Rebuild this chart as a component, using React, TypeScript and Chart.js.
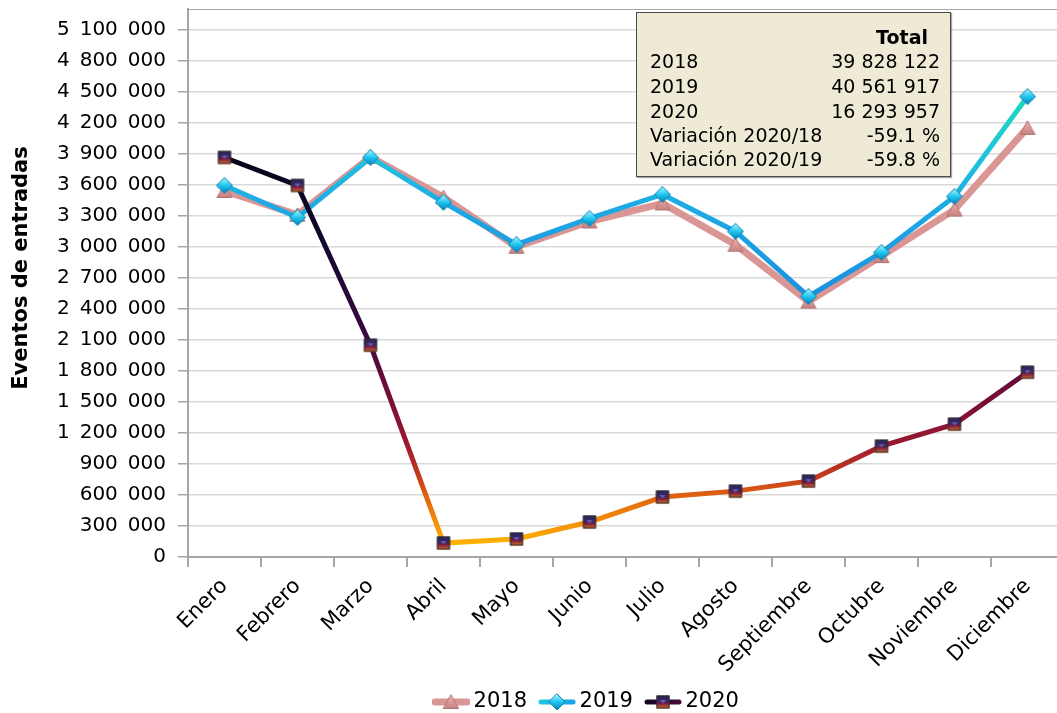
import React, { useEffect, useRef } from 'react';
import { Chart, registerables } from 'chart.js';

Chart.register(...registerables);

// ---------- data ----------
const months = ['Enero', 'Febrero', 'Marzo', 'Abril', 'Mayo', 'Junio', 'Julio', 'Agosto', 'Septiembre', 'Octubre', 'Noviembre', 'Diciembre'];
const seriesLabels = ['2018', '2019', '2020'];
const values2018 = [3540000, 3310000, 3870000, 3480000, 3000000, 3245000, 3420000, 3020000, 2470000, 2910000, 3360000, 4150000];
const values2019 = [3593000, 3284000, 3864000, 3430000, 3023000, 3274000, 3506000, 3149000, 2520000, 2946000, 3487000, 4453000];
const values2020 = [3864000, 3593000, 2048000, 135000, 174000, 338000, 580000, 637000, 734000, 1072000, 1285000, 1787000];
const yTickValues = [0, 300000, 600000, 900000, 1200000, 1500000, 1800000, 2100000, 2400000, 2700000, 3000000, 3300000, 3600000, 3900000, 4200000, 4500000, 4800000, 5100000];
const yMin = 0;
const yMax = 5300000;
const yTitle = 'Eventos de entradas';
const summaryHeader = 'Total';
const summaryLabels = ['2018', '2019', '2020', 'Variación 2020/18', 'Variación 2020/19'];
const summaryValues = ['39 828 122', '40 561 917', '16 293 957', '-59.1 %', '-59.8 %'];

// ---------- styles ----------
const FONT = '"DejaVu Sans", "Liberation Sans", sans-serif';
const grad2020: [number, string][] = [
  [4000000, '#050518'],
  [3000000, '#14082e'],
  [2100000, '#3c0a40'],
  [1800000, '#5e0b3c'],
  [1100000, '#9a1830'],
  [750000, '#c8401c'],
  [600000, '#e06010'],
  [350000, '#f38c06'],
  [130000, '#ffb300'],
];
const grad2019: [number, string][] = [
  [4500000, '#1adcb8'],
  [3900000, '#20c4dc'],
  [3400000, '#1eaae4'],
  [2500000, '#1a8fe0'],
];

function makeCanvas(w: number, h: number) {
  const c = document.createElement('canvas');
  c.width = w;
  c.height = h;
  return c;
}

function drawTriangle(ctx: CanvasRenderingContext2D, cx: number, cy: number) {
  const g = ctx.createLinearGradient(0, cy - 6, 0, cy + 6);
  g.addColorStop(0, '#eab0ae');
  g.addColorStop(1, '#c98482');
  ctx.beginPath();
  ctx.moveTo(cx, cy - 7);
  ctx.lineTo(cx + 7.5, cy + 6.5);
  ctx.lineTo(cx - 7.5, cy + 6.5);
  ctx.closePath();
  ctx.fillStyle = g;
  ctx.fill();
  ctx.lineWidth = 1;
  ctx.strokeStyle = '#b07270';
  ctx.stroke();
}

function drawDiamond(ctx: CanvasRenderingContext2D, cx: number, cy: number) {
  const g = ctx.createLinearGradient(0, cy - 7, 0, cy + 7);
  g.addColorStop(0, '#9af2ff');
  g.addColorStop(0.5, '#20c6f0');
  g.addColorStop(1, '#0a88c0');
  ctx.beginPath();
  ctx.moveTo(cx, cy - 8);
  ctx.lineTo(cx + 8, cy);
  ctx.lineTo(cx, cy + 8);
  ctx.lineTo(cx - 8, cy);
  ctx.closePath();
  ctx.fillStyle = g;
  ctx.fill();
  ctx.lineWidth = 1;
  ctx.strokeStyle = '#0c80b0';
  ctx.stroke();
}

function drawSquare(ctx: CanvasRenderingContext2D, cx: number, cy: number) {
  const s = 13;
  const x = cx - s / 2;
  const y = cy - s / 2;
  const g = ctx.createLinearGradient(0, y, 0, y + s);
  g.addColorStop(0, '#2a2058');
  g.addColorStop(0.45, '#3a2a68');
  g.addColorStop(0.62, '#7a1c40');
  g.addColorStop(1, '#d8702a');
  ctx.fillStyle = g;
  ctx.fillRect(x, y, s, s);
  ctx.beginPath();
  ctx.moveTo(cx - 3, cy - 2);
  ctx.lineTo(cx + 3, cy - 2);
  ctx.lineTo(cx, cy + 1.5);
  ctx.closePath();
  ctx.fillStyle = '#6a5aa8';
  ctx.fill();
  ctx.lineWidth = 1;
  ctx.strokeStyle = '#2a2a2a';
  ctx.strokeRect(x + 0.5, y + 0.5, s - 1, s - 1);
}

function markerCanvas(kind: number) {
  const c = makeCanvas(20, 20);
  const ctx = c.getContext('2d')!;
  if (kind === 0) drawTriangle(ctx, 10, 10);
  else if (kind === 1) drawDiamond(ctx, 10, 10);
  else drawSquare(ctx, 10, 10);
  return c;
}

function legendIcon(kind: number) {
  const c = makeCanvas(38, 20);
  const ctx = c.getContext('2d')!;
  ctx.lineCap = 'round';
  ctx.beginPath();
  ctx.moveTo(3, 10);
  ctx.lineTo(35, 10);
  if (kind === 0) {
    ctx.strokeStyle = '#d99694';
    ctx.lineWidth = 7;
  } else if (kind === 1) {
    const g = ctx.createLinearGradient(0, 0, 38, 0);
    g.addColorStop(0, '#20c8e0');
    g.addColorStop(1, '#1aa0e4');
    ctx.strokeStyle = g;
    ctx.lineWidth = 5;
  } else {
    const g = ctx.createLinearGradient(0, 0, 38, 0);
    g.addColorStop(0, '#0a0820');
    g.addColorStop(1, '#4a0a38');
    ctx.strokeStyle = g;
    ctx.lineWidth = 5;
  }
  ctx.stroke();
  if (kind === 0) drawTriangle(ctx, 19, 10);
  else if (kind === 1) drawDiamond(ctx, 19, 10);
  else drawSquare(ctx, 19, 10);
  return c;
}

function fmt(v: number) {
  return Math.round(v).toString().replace(/\B(?=(\d{3})+(?!\d))/g, '\u2002');
}

function gradientFor(stops: [number, string][], fallback: string) {
  return (context: any) => {
    const chart = context.chart;
    const area = chart.chartArea;
    const y = chart.scales && chart.scales.y;
    if (!area || !y) return fallback;
    const y0 = y.getPixelForValue(stops[0][0]);
    const y1 = y.getPixelForValue(stops[stops.length - 1][0]);
    const g = chart.ctx.createLinearGradient(0, y0, 0, y1);
    stops.forEach(([v, col]) => {
      const p = (y.getPixelForValue(v) - y0) / (y1 - y0);
      g.addColorStop(Math.min(1, Math.max(0, p)), col);
    });
    return g;
  };
}

const CANVAS_W = 1080;
const CANVAS_H = 713;
const PLOT_LEFT = 188;
const PLOT_BOTTOM = 557;
const LEGEND_CENTER_X = 589;
const LEGEND_CENTER_Y = 702;
const TITLE_X = 22;
const TITLE_Y = 268;

export default function App() {
  const ref = useRef<HTMLCanvasElement>(null);

  useEffect(() => {
    const canvas = ref.current!;
    const markers = [markerCanvas(0), markerCanvas(1), markerCanvas(2)];
    const icons = [legendIcon(0), legendIcon(1), legendIcon(2)];

    const framePlugin = {
      id: 'frame',
      beforeDatasetsDraw(chart: any) {
        const { ctx, chartArea } = chart;
        ctx.save();
        ctx.strokeStyle = '#a6a6a6';
        ctx.lineWidth = 1;
        ctx.beginPath();
        ctx.moveTo(chartArea.left, chartArea.top + 0.5);
        ctx.lineTo(chartArea.right, chartArea.top + 0.5);
        ctx.moveTo(chartArea.right - 0.5, chartArea.top);
        ctx.lineTo(chartArea.right - 0.5, chartArea.bottom);
        ctx.stroke();
        ctx.restore();
      },
      afterDraw(chart: any) {
        const { ctx } = chart;
        ctx.save();
        ctx.translate(TITLE_X, TITLE_Y);
        ctx.rotate(-Math.PI / 2);
        ctx.font = 'bold 21px ' + FONT;
        ctx.fillStyle = '#000';
        ctx.textAlign = 'center';
        ctx.textBaseline = 'middle';
        ctx.fillText(yTitle, 0, 0);
        ctx.restore();
      },
      afterLayout(chart: any) {
        const lg = chart.legend;
        if (!lg) return;
        const dx = LEGEND_CENTER_X - (lg.left + lg.right) / 2;
        lg.left += dx;
        lg.right += dx;
        const pad = lg.options.labels.padding;
        const fs = lg.options.labels.font.size;
        const targetTop = LEGEND_CENTER_Y - pad - fs / 2;
        const dy = targetTop - lg.top;
        lg.top += dy;
        lg.bottom += dy;
      },
    };

    const chart = new Chart(canvas, {
      type: 'line',
      data: {
        labels: months,
        datasets: [
          {
            label: seriesLabels[0],
            data: values2018,
            borderColor: '#d99694',
            backgroundColor: '#d99694',
            borderWidth: 7,
            pointStyle: markers[0] as any,
            pointRadius: 7,
            tension: 0,
            order: 3,
          },
          {
            label: seriesLabels[1],
            data: values2019,
            borderColor: gradientFor(grad2019, '#1eaae4') as any,
            backgroundColor: '#1eaae4',
            borderWidth: 5,
            pointStyle: markers[1] as any,
            pointRadius: 7,
            tension: 0,
            order: 2,
          },
          {
            label: seriesLabels[2],
            data: values2020,
            borderColor: gradientFor(grad2020, '#3c0a40') as any,
            backgroundColor: '#3c0a40',
            borderWidth: 5,
            pointStyle: markers[2] as any,
            pointRadius: 7,
            tension: 0,
            order: 1,
          },
        ],
      },
      options: {
        animation: false,
        responsive: false,
        devicePixelRatio: 1,
        events: [],
        layout: { autoPadding: false, padding: { left: 0, top: 9, right: CANVAS_W - 1064, bottom: 0 } },
        plugins: {
          tooltip: { enabled: false },
          legend: {
            display: true,
            position: 'bottom',
            labels: {
              usePointStyle: true,
              pointStyleWidth: 24,
              padding: 18,
              color: '#000',
              font: { size: 21, family: FONT },
              generateLabels: () =>
                seriesLabels.map((t, i) => ({
                  text: t,
                  pointStyle: icons[i] as any,
                  fillStyle: 'rgba(0,0,0,0)',
                  strokeStyle: 'rgba(0,0,0,0)',
                  lineWidth: 0,
                  hidden: false,
                  datasetIndex: i,
                  fontColor: '#000',
                })),
            },
          },
        },
        scales: {
          x: {
            type: 'category',
            offset: true,
            grid: {
              display: true,
              offset: true,
              drawOnChartArea: false,
              drawTicks: true,
              tickLength: 10,
              tickColor: '#a6a6a6',
              lineWidth: 2,
            },
            border: { display: true, color: '#a6a6a6', width: 2 },
            ticks: {
              color: '#000',
              font: { size: 21, family: FONT },
              minRotation: 45,
              maxRotation: 45,
              autoSkip: false,
              padding: 7,
            },
            afterFit(scale: any) {
              const lh = scale.chart.legend ? scale.chart.legend.height : 0;
              scale.height = CANVAS_H - PLOT_BOTTOM - lh;
              scale.paddingLeft = 0;
              scale.paddingRight = 0;
              scale._computeLabelArea = () => undefined;
            },
          },
          y: {
            type: 'linear',
            min: yMin,
            max: yMax,
            afterBuildTicks(scale: any) {
              scale.ticks = yTickValues.map((v) => ({ value: v }));
            },
            grid: {
              color: '#d9d9d9',
              lineWidth: 1.5,
              drawTicks: true,
              tickLength: 10,
              tickColor: '#a6a6a6',
            },
            border: { display: true, color: '#a6a6a6', width: 2 },
            ticks: {
              autoSkip: false,
              color: '#000',
              font: { size: 20, family: FONT },
              padding: 12,
              callback: (v: any) => fmt(Number(v)),
            },
            title: { display: false, text: yTitle },
            afterFit(scale: any) {
              scale.width = PLOT_LEFT;
              scale.paddingTop = 0;
              scale.paddingBottom = 0;
            },
          },
        },
      } as any,
      plugins: [framePlugin],
    });
    return () => chart.destroy();
  }, []);

  const rowTops = [36, 61, 86, 110, 134];
  return (
    <div
      style={{
        position: 'fixed',
        left: 0,
        top: 0,
        width: 1057,
        height: 713,
        overflow: 'hidden',
        background: '#fff',
      }}
    >
      <canvas
        ref={ref}
        width={CANVAS_W}
        height={CANVAS_H}
        style={{ position: 'absolute', left: 0, top: 0, width: CANVAS_W, height: CANVAS_H }}
      />
      <div
        style={{
          position: 'absolute',
          left: 636,
          top: 12,
          width: 313,
          height: 163,
          background: '#eeead6',
          border: '1px solid #4a4a4a',
          boxShadow: '1px 1px 1px rgba(0,0,0,0.35)',
          fontFamily: FONT,
          fontSize: 19,
          color: '#000',
        }}
      >
        <div
          style={{
            position: 'absolute',
            right: 22,
            top: 12,
            lineHeight: '24px',
            fontWeight: 'bold',
          }}
        >
          {summaryHeader}
        </div>
        {summaryLabels.map((lab, i) => (
          <React.Fragment key={lab}>
            <div style={{ position: 'absolute', left: 13, top: rowTops[i], lineHeight: '24px', whiteSpace: 'nowrap' }}>{lab}</div>
            <div style={{ position: 'absolute', right: 10, top: rowTops[i], lineHeight: '24px', whiteSpace: 'nowrap' }}>{summaryValues[i]}</div>
          </React.Fragment>
        ))}
      </div>
    </div>
  );
}
